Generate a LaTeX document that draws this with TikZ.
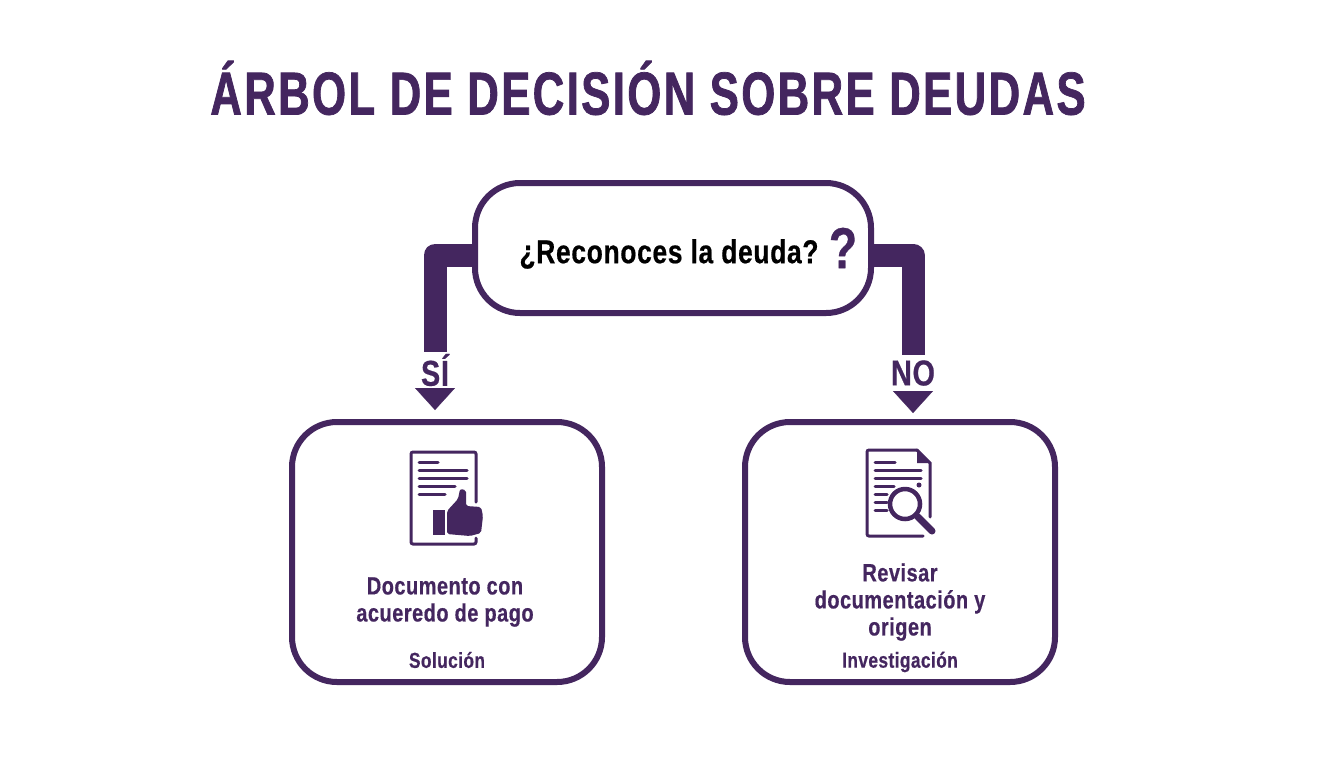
\documentclass[tikz,border=0pt]{standalone}
\usepackage{fontspec}
\setmainfont[FakeStretch=0.8,LetterSpace=2,BoldFeatures={FakeBold=0.5}]{Liberation Sans}
\newfontfamily\titlefont[FakeStretch=0.72,LetterSpace=4,BoldFeatures={FakeBold=1.2}]{Liberation Sans}
\usepackage{tikz}
\usetikzlibrary{arrows.meta}
\definecolor{debtpurple}{HTML}{44265F}
\newcommand{\px}{0.02cm}
\newcommand{\fs}[1]{\fontsize{#1}{15.4}\selectfont\bfseries}
\tikzset{
    decisionbox/.style={draw=debtpurple, line width=6*\px, rounded corners=45*\px, fill=white, inner sep=0pt},
    elbow/.style={draw=debtpurple, line width=23*\px, line join=round},
    head/.style={draw=debtpurple, fill=debtpurple, line width=0.1pt,
        -{Triangle[length=22*\px, width=40*\px]}},
    branch/.style={text=debtpurple, inner sep=0pt, minimum height=36*\px, font=\fs{20.5}},
    answer/.style={text=debtpurple, align=center, inner sep=0pt, font=\fs{14.2}},
    tag/.style={text=debtpurple, inner sep=0pt, font=\fs{12.3}},
    icon/.style={draw=debtpurple, line width=3*\px, line cap=round}
}

\begin{document}
\begin{tikzpicture}[x=\px, y=-\px]
    \useasboundingbox[fill=white] (0,0) rectangle (1344,768);

    \node[text=debtpurple, inner sep=0pt] (title) at (648,88) {\fontsize{34.5}{36}\titlefont\bfseries ÁRBOL DE DECISIÓN SOBRE DEUDAS};

    \node[decisionbox, minimum width=396*\px, minimum height=130*\px] (q) at (673,248) {};
    \node[inner sep=0pt, font=\fs{18.8}] (qtext) at (669,254) {¿Reconoces la deuda?};
    \node[text=debtpurple, inner sep=0pt, font=\fs{33}] (qmark) at (843,248) {?};

    \node[decisionbox, minimum width=310*\px, minimum height=260*\px] (yesbox) at (447,552) {};
    \node[decisionbox, minimum width=310*\px, minimum height=260*\px] (nobox) at (900,552) {};

    \node[branch] (si) at (435,370) {SÍ};
    \node[branch] (no) at (913,373) {NO};

    \coordinate (sibend) at (435,255);
    \coordinate (nobend) at (913,255);

    \draw[elbow] (q.west |- sibend) -- (sibend) -- (si.north);
    \draw[elbow] (q.east |- nobend) -- (nobend) -- (no.north);
    \draw[head, shorten >=9*\px] (si.south) -- (si.south |- yesbox.north);
    \draw[head, shorten >=6*\px] (no.south) -- (no.south |- nobox.north);

    \node[answer] (yestext) at (445,602) {Documento con\\ acueredo de pago};
    \node[tag] (yestag) at (447,660) {Solución};
    \node[answer] (notext) at (900,602) {Revisar\\ documentación y\\ origen};
    \node[tag] (notag) at (900,662) {Investigación};

    \draw[icon, rounded corners=2*\px] (476,502) -- (476,452) -- (411,452) -- (411,544) -- (476,544) -- (476,538);
    \foreach \y/\xend in {462/438, 470/467, 478/467, 486/455, 494/445}
        \draw[icon] (419,\y) -- (\xend,\y);
    \fill[debtpurple] (433,510) rectangle (445,535);
    \fill[debtpurple, rounded corners=2*\px] (447,511) -- (458,499) -- (460,489) -- (466,490) -- (466,506)
        -- (481,507) -- (483,516) -- (481,533) -- (470,536) -- (447,534) -- cycle;

    \draw[icon, rounded corners=2*\px] (917,450) -- (867,450) -- (867,536) -- (923,536);
    \draw[icon] (917,450) -- (930,463) -- (930,517);
    \fill[debtpurple] (917,450) -- (930,463) -- (917,463) -- cycle;
    \foreach \y/\xend in {462/895, 470/921, 478/921, 486/894, 494/887, 502/887, 510/887}
        \draw[icon] (875,\y) -- (\xend,\y);
    \fill[debtpurple] (919,485) circle (2.5*\px);
    \draw[debtpurple, line width=7*\px, line cap=round] (918,517) -- (932,531);
    \draw[debtpurple, line width=4.5*\px, fill=white] (905,504) circle (15*\px);
\end{tikzpicture}
\end{document}
